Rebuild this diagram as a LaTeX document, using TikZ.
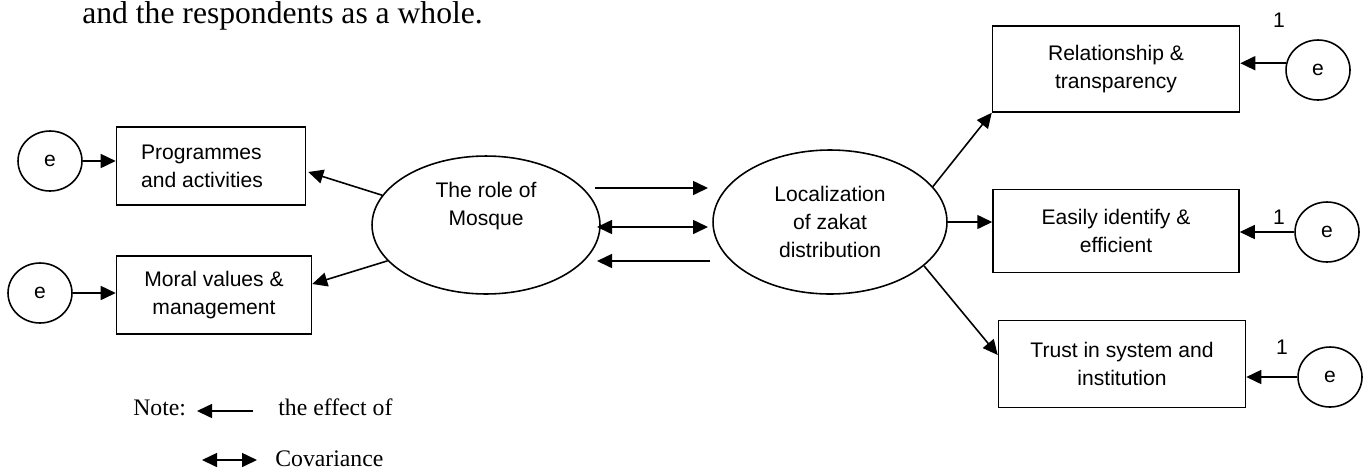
\documentclass[tikz,border=0pt]{standalone}
\usepackage{fontspec}
\setmainfont{Liberation Serif}
\newfontfamily\diagfont{Liberation Sans}
\usetikzlibrary{shapes.geometric, arrows.meta, calc}

\tikzset{
  obs/.style 2 args={draw, line width=0.9pt, minimum width=#1, minimum height=#2, inner sep=0pt, align=center, font=\diagfont\fontsize{12}{16}\selectfont},
  latent/.style 2 args={draw, ellipse, line width=0.9pt, minimum width=#1, minimum height=#2, inner sep=0pt, align=center, font=\diagfont\fontsize{12}{16}\selectfont},
  err/.style={draw, ellipse, line width=0.9pt, minimum width=1.28cm, minimum height=1.2cm, inner sep=0pt, font=\diagfont\fontsize{12}{16}\selectfont},
  one/.style={inner sep=0pt, font=\diagfont\fontsize{12}{14}\selectfont},
  eff/.style={line width=0.9pt, -{Triangle[length=0.3cm, width=0.28cm]}},
  cov/.style={line width=0.9pt, {Triangle[length=0.3cm, width=0.28cm]}-{Triangle[length=0.3cm, width=0.28cm]}},
  note/.style={inner sep=0pt, anchor=base west, font=\fontsize{13.5}{16}\selectfont}
}

\begin{document}
\begin{tikzpicture}[x=0.02cm, y=-0.02cm]
\useasboundingbox (0,0) rectangle (1364,471);

% end of the paragraph above
\node[inner sep=0pt, anchor=base west, font=\fontsize{18}{20}\selectfont] (para) at (82,23) {and the respondents as a whole.};

% latent variables
\node[latent={4.56cm}{2.76cm}] (mosque) at (486,225) {The role of\\Mosque\\[0.3cm]};
\node[latent={4.68cm}{2.88cm}] (loc) at (830,222) {Localization\\of zakat\\distribution};

% observed variables
\node[obs={3.78cm}{1.56cm}, align=left] (prog) at (211,166) {Programmes\\and activities\hspace*{0.36cm}};
\node[obs={3.9cm}{1.56cm}] (moral) at (214,295) {Moral values \&\\management};
\node[obs={4.94cm}{1.72cm}] (rel) at (1116,69) {Relationship \&\\transparency};
\node[obs={4.92cm}{1.66cm}] (easy) at (1116,231) {Easily identify \&\\efficient};
\node[obs={4.94cm}{1.74cm}] (trust) at (1122,364) {Trust in system and\\institution};

% errors
\node[err] (e1) at (50,161) {e};
\node[err] (e2) at (40,293) {e};
\node[err] (e3) at (1318,70) {e};
\node[err] (e4) at (1327,232) {e};
\node[err] (e5) at (1330,377) {e};

\node[one] (w3) at (1279,20) {1};
\node[one] (w4) at (1279,217) {1};
\node[one] (w5) at (1282,347) {1};

\draw[eff] (e1.east) -- (e1.east -| prog.west);
\draw[eff] (e2.east) -- (e2.east -| moral.west);
\draw[eff] (e3.168) -- (e3.168 -| rel.east);
\draw[eff] (e4.west) -- (e4.west -| easy.east);
\draw[eff] (e5.west) -- (e5.west -| trust.east);

% loadings
\draw[eff] (mosque.164) -- ($(prog.east)+(2,6)$);
\draw[eff] (mosque.200) -- ($(moral.east)+(0,-11)$);
\draw[eff] (loc.19) -- (rel.south west);
\draw[eff] (loc.east) -- (loc.east -| easy.west);
\draw[eff] (loc.-25) -- ($(trust.west)+(0,-9)$);

% paths between the two constructs
\coordinate (ma) at (595,188);
\coordinate (la) at (708,188);
\coordinate (mb) at (597,227);
\coordinate (lb) at (708,227);
\coordinate (mc) at (597,261);
\coordinate (lc) at (710,261);
\draw[eff] (ma) -- (la);
\draw[cov] (mb) -- (lb);
\draw[eff] (lc) -- (mc);

% legend
\node[note] (nt) at (133,415) {Note:};
\coordinate (na) at (253,411);
\coordinate (nb) at (197,411);
\draw[eff] (na) -- (nb);
\node[note] (ntx) at (278,415) {the effect of};
\coordinate (ca) at (202,460);
\coordinate (cb) at (257,460);
\draw[cov] (ca) -- (cb);
\node[note] (cv) at (275,466) {Covariance};

\end{tikzpicture}
\end{document}
